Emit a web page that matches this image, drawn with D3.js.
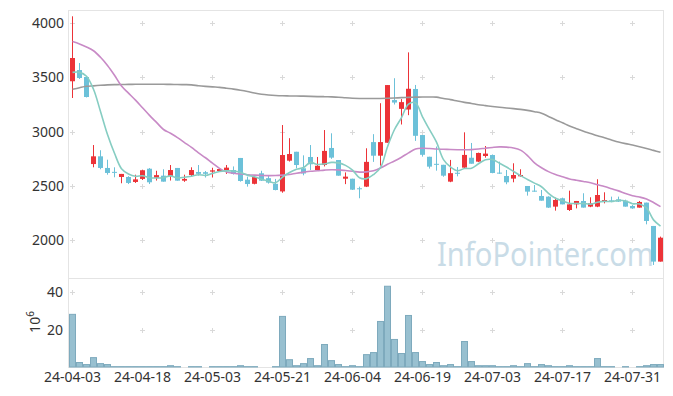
<!DOCTYPE html>
<html>
<head>
<meta charset="utf-8">
<script src="https://cdn.jsdelivr.net/npm/d3@7"></script>
<style>
  html, body { margin: 0; padding: 0; background: #ffffff; }
  svg { display: block; }
</style>
</head>
<body>
<script>
// ---------------- DATA ----------------
const dates = [
  "2024-04-03","2024-04-04","2024-04-05","2024-04-08","2024-04-09","2024-04-11","2024-04-12","2024-04-15","2024-04-16","2024-04-17",
  "2024-04-18","2024-04-19","2024-04-22","2024-04-23","2024-04-24","2024-04-25","2024-04-26","2024-04-29","2024-04-30","2024-05-02",
  "2024-05-03","2024-05-07","2024-05-08","2024-05-09","2024-05-10","2024-05-13","2024-05-14","2024-05-16","2024-05-17","2024-05-20",
  "2024-05-21","2024-05-22","2024-05-23","2024-05-24","2024-05-27","2024-05-28","2024-05-29","2024-05-30","2024-05-31","2024-06-03",
  "2024-06-04","2024-06-05","2024-06-07","2024-06-10","2024-06-11","2024-06-12","2024-06-13","2024-06-14","2024-06-17","2024-06-18",
  "2024-06-19","2024-06-20","2024-06-21","2024-06-24","2024-06-25","2024-06-26","2024-06-27","2024-06-28","2024-07-01","2024-07-02",
  "2024-07-03","2024-07-04","2024-07-05","2024-07-08","2024-07-09","2024-07-10","2024-07-11","2024-07-12","2024-07-15","2024-07-16",
  "2024-07-17","2024-07-18","2024-07-19","2024-07-22","2024-07-23","2024-07-24","2024-07-25","2024-07-26","2024-07-29","2024-07-30",
  "2024-07-31","2024-08-01","2024-08-02","2024-08-05","2024-08-06"
];
const openP = [
  3464,3567,3503,2702,2773,2666,2630,2583,2583,2537,
  2565,2659,2576,2595,2593,2666,2549,2601,2629,2627,
  2632,2638,2647,2647,2758,2558,2520,2617,2572,2520,
  2450,2733,2815,2663,2767,2647,2693,2850,2739,2567,
  2567,2479,2494,2904,2779,2898,3291,3210,3204,3393,
  2969,2769,2704,2695,2540,2622,2669,2760,2724,2776,
  2785,2623,2592,2568,2589,2500,2457,2408,2402,2310,
  2387,2279,2331,2362,2310,2310,2353,2368,2377,2365,
  2316,2301,2347,2132,1804
];
const highP = [
  4062,3632,3510,2877,2829,2742,2672,2611,2590,2604,
  2650,2665,2640,2654,2693,2666,2604,2672,2693,2638,
  2668,2665,2693,2680,2758,2586,2595,2640,2595,2565,
  3061,2940,2815,2782,2877,2767,3015,2985,2739,2625,
  2567,2494,2847,2977,3262,3429,3492,3300,3730,3430,
  2969,2769,2863,2695,2740,2675,2994,2896,2807,2868,
  2790,2724,2647,2709,2654,2500,2509,2463,2405,2393,
  2393,2457,2362,2433,2396,2562,2442,2402,2402,2374,
  2325,2362,2347,2132,2034
];
const lowP = [
  3310,3485,3315,2672,2654,2604,2580,2525,2518,2528,
  2555,2518,2550,2540,2550,2549,2538,2588,2595,2578,
  2578,2630,2611,2605,2540,2494,2515,2546,2522,2460,
  2438,2725,2663,2598,2647,2640,2680,2750,2595,2517,
  2463,2387,2490,2722,2687,2898,3250,3066,3152,2915,
  2770,2660,2641,2585,2535,2589,2665,2705,2720,2761,
  2617,2612,2516,2534,2586,2411,2448,2365,2298,2273,
  2331,2270,2294,2301,2305,2305,2340,2350,2353,2310,
  2290,2301,2147,1773,1804
];
const closeP = [
  3678,3494,3319,2773,2666,2620,2625,2611,2528,2561,
  2645,2534,2600,2540,2647,2549,2565,2647,2612,2612,
  2644,2656,2669,2611,2546,2518,2582,2549,2531,2463,
  2785,2794,2693,2615,2700,2686,2823,2761,2595,2586,
  2466,2472,2722,2779,2904,3429,3268,3272,3395,2962,
  2787,2678,2695,2595,2618,2612,2786,2705,2804,2798,
  2620,2617,2534,2601,2601,2448,2448,2365,2301,2371,
  2331,2331,2362,2301,2341,2417,2371,2356,2356,2310,
  2294,2353,2178,1804,2024
];
const ma5 = [
  3546,3546,3510,3390,3186,2974,2801,2659,2610,2589,
  2594,2576,2574,2576,2593,2574,2580,2590,2604,2597,
  2616,2634,2639,2638,2625,2600,2585,2561,2545,2529,
  2582,2624,2653,2670,2717,2698,2703,2717,2713,2690,
  2646,2576,2568,2605,2669,2861,3020,3130,3254,3265,
  3137,3019,2903,2743,2675,2640,2661,2663,2705,2741,
  2743,2709,2675,2634,2595,2560,2526,2493,2433,2387,
  2363,2340,2339,2339,2333,2350,2358,2357,2368,2362,
  2337,2334,2298,2188,2131
];
const ma20 = [
  3830,3808,3780,3745,3685,3610,3520,3420,3355,3290,
  3220,3150,3085,3020,2985,2945,2900,2855,2805,2760,
  2710,2662,2628,2618,2610,2604,2600,2597,2595,2596,
  2600,2606,2618,2627,2635,2640,2646,2650,2648,2642,
  2635,2628,2630,2640,2665,2700,2730,2765,2805,2840,
  2847,2845,2840,2838,2836,2834,2833,2835,2840,2848,
  2855,2860,2858,2850,2830,2780,2712,2668,2632,2605,
  2585,2565,2553,2542,2530,2512,2495,2475,2455,2430,
  2410,2398,2380,2348,2310
];
const ma60 = [
  3390,3405,3418,3422,3427,3431,3433,3434,3435,3436,
  3437,3437,3437,3436,3435,3434,3433,3431,3423,3417,
  3412,3408,3400,3392,3382,3370,3356,3345,3338,3333,
  3330,3329,3328,3327,3325,3323,3322,3320,3317,3312,
  3308,3306,3305,3305,3306,3308,3310,3313,3316,3318,
  3319,3319,3318,3305,3295,3282,3270,3260,3248,3240,
  3232,3225,3218,3212,3205,3196,3184,3170,3140,3110,
  3082,3052,3028,3004,2983,2962,2944,2924,2905,2890,
  2877,2862,2846,2828,2810
];
// volume in millions of shares
const volume = [
  28.1,2.4,1.3,5.0,1.8,1.3,0.2,0.2,0.2,0.2,
  0.2,0.2,0.2,0.2,0.7,0.2,0,0.2,0.2,0,
  0.2,0.2,0.2,0.2,0.7,0.2,0.2,0,0,0.2,
  27.0,3.9,0.7,1.8,4.5,0.7,12.0,3.4,1.3,0.2,
  0.7,0.2,6.6,7.7,24.3,43.1,14.7,7.2,27.5,7.7,
  2.9,1.3,2.4,0.7,1.3,0.2,13.6,2.9,0.7,0.7,
  0.7,0.2,0.2,0.7,0.2,1.8,0.2,1.3,0.7,0.2,
  0.2,0.7,0.2,0.2,0.2,4.5,0.2,0.2,0,0.2,
  0,0.2,0.7,1.3,1.3
];
const priceTicks = [2000, 2500, 3000, 3500, 4000];
const volTicks = [20, 40];
const xTickEvery = 10;
const watermark = "InfoPointer.com";

// ---------------- LAYOUT ----------------
const W = 673, H = 396;
const L = 69, R = 664, T = 10, MID = 278, B = 367;
const FONT = "'Noto Sans', 'DejaVu Sans', sans-serif";

const svg = d3.select("body").append("svg").attr("width", W).attr("height", H);

const x = d3.scaleBand().domain(dates).range([L, R]).padding(0);
const cx = d => x(d) + x.bandwidth() / 2;
const y = d3.scaleLinear().domain([1653, 4120]).range([MID, T]);
const yv = d3.scaleLinear().domain([0, 47.5]).range([B, MID]);

const parse = d3.timeParse("%Y-%m-%d");
const fmt = d3.timeFormat("%y-%m-%d");
const xTicks = dates.filter((d, i) => i % xTickEvery === 0);

// ---------------- FRAME ----------------
const frame = svg.append("g").attr("stroke", "#e4e4e4").attr("stroke-width", 1).attr("fill", "none");
frame.append("line").attr("x1", L - 0.5).attr("x2", R - 0.5).attr("y1", T + 0.5).attr("y2", T + 0.5);
frame.append("line").attr("x1", L - 0.5).attr("x2", R - 0.5).attr("y1", MID + 0.5).attr("y2", MID + 0.5);
frame.append("line").attr("x1", L - 0.5).attr("x2", R - 0.5).attr("y1", B + 0.5).attr("y2", B + 0.5);
frame.append("line").attr("x1", L - 0.5).attr("x2", L - 0.5).attr("y1", T).attr("y2", B + 1);
frame.append("line").attr("x1", R - 0.5).attr("x2", R - 0.5).attr("y1", T).attr("y2", B + 1);

// grid crosses
const crosses = [];
xTicks.forEach(d => {
  priceTicks.forEach(v => crosses.push([cx(d), Math.round(y(v)) + 0.5]));
  volTicks.forEach(v => crosses.push([cx(d), Math.round(yv(v)) + 0.5]));
});
const cg = svg.append("g").attr("stroke", "#d9d9d9").attr("stroke-width", 1);
crosses.forEach(([px, py]) => {
  cg.append("line").attr("x1", px - 2.5).attr("x2", px + 2.5).attr("y1", py).attr("y2", py);
  cg.append("line").attr("x1", px).attr("x2", px).attr("y1", py - 2.5).attr("y2", py + 2.5);
});

// watermark
svg.append("text")
  .attr("x", 437).attr("y", 266)
  .attr("font-family", FONT).attr("font-size", 32)
  .attr("fill", "#c9dce7")
  .attr("textLength", 217).attr("lengthAdjust", "spacingAndGlyphs")
  .text(watermark);

// ---------------- AXES ----------------
const yAxis = svg.append("g").attr("transform", `translate(${L},0)`)
  .call(d3.axisLeft(y).tickValues(priceTicks).tickSize(0).tickPadding(5).tickFormat(d3.format("d")));
const vAxis = svg.append("g").attr("transform", `translate(${L},0)`)
  .call(d3.axisLeft(yv).tickValues(volTicks).tickSize(0).tickPadding(6).tickFormat(d3.format("d")));
const xAxis = svg.append("g").attr("transform", `translate(0,${B})`)
  .call(d3.axisBottom(x).tickValues(xTicks).tickSize(0).tickPadding(5).tickFormat(d => fmt(parse(d))));
[yAxis, vAxis, xAxis].forEach(g => {
  g.select(".domain").remove();
  g.selectAll("text").attr("font-family", FONT).attr("font-size", 14).attr("fill", "#333");
});

// 10^6 unit label
const unit = svg.append("text")
  .attr("transform", "translate(40,322) rotate(-90)")
  .attr("text-anchor", "middle")
  .attr("font-family", FONT).attr("font-size", 14).attr("fill", "#333");
unit.append("tspan").text("10");
unit.append("tspan").attr("dy", -6).attr("font-size", 10).text("6");

// ---------------- VOLUME ----------------
svg.append("g").selectAll("rect")
  .data(dates.map((d, i) => ({ d, v: volume[i] })).filter(o => o.v > 0))
  .join("rect")
  .attr("x", o => x(o.d) + 0.5)
  .attr("width", x.bandwidth() - 1)
  .attr("y", o => yv(o.v))
  .attr("height", o => B - yv(o.v))
  .attr("fill", "#98c0d0")
  .attr("stroke", "#7eaabd")
  .attr("stroke-width", 1);

// ---------------- CANDLES ----------------
const RED = "#ec3338", BLUE = "#6cc1d9";
const candles = dates.map((d, i) => ({ d, o: openP[i], h: highP[i], l: lowP[i], c: closeP[i] }));
const cgrp = svg.append("g");
cgrp.selectAll("line").data(candles).join("line")
  .attr("x1", k => cx(k.d)).attr("x2", k => cx(k.d))
  .attr("y1", k => y(k.h)).attr("y2", k => y(k.l))
  .attr("stroke", k => k.c > k.o ? RED : BLUE).attr("stroke-width", 1);
cgrp.selectAll("rect").data(candles).join("rect")
  .attr("x", k => cx(k.d) - 2.5).attr("width", 5)
  .attr("y", k => y(Math.max(k.o, k.c)))
  .attr("height", k => Math.max(1, Math.abs(y(k.o) - y(k.c))))
  .attr("fill", k => k.c > k.o ? RED : BLUE);

// ---------------- MOVING AVERAGES ----------------
const mkLine = arr => d3.line().x((d, i) => cx(dates[i])).y(v => y(v)).curve(d3.curveCatmullRom)(arr);
[[ma60, "#9a9a9a"], [ma20, "#c88ac6"], [ma5, "#86cdc2"]].forEach(([arr, col]) => {
  svg.append("path").attr("d", mkLine(arr)).attr("fill", "none")
    .attr("stroke", col).attr("stroke-width", 1.6).attr("stroke-linejoin", "round");
});
</script>
</body>
</html>
